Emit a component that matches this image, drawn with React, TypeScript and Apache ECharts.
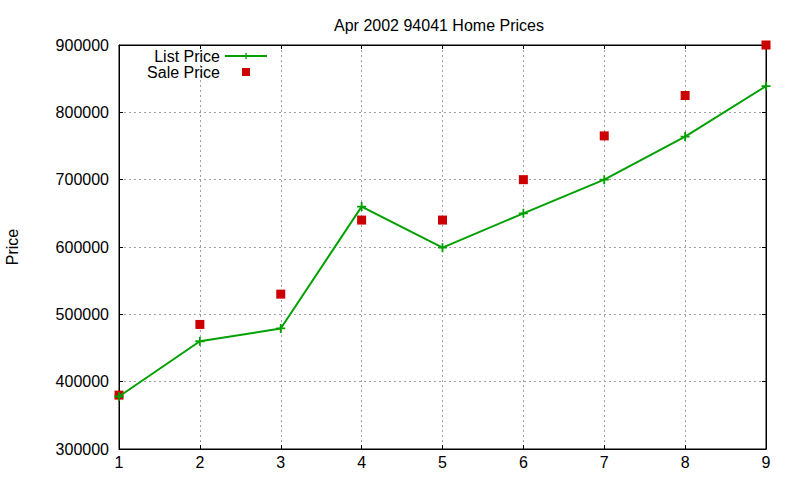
import { useEffect, useRef } from "react"
import * as echarts from "echarts"

const months = [1, 2, 3, 4, 5, 6, 7, 8, 9]
const listPrice = [378000, 460000, 479000, 660000, 599000, 650000, 700000, 764000, 839000]
const salePrice = [380000, 485000, 530000, 640000, 640000, 700000, 765000, 825000, 900000]

const GREEN = "#00a000"
const RED = "#cc0000"
const FONT = "'Liberation Sans', Arial, sans-serif"
const PLUS = "path://M-0.2,-1H0.2V-0.2H1V0.2H0.2V1H-0.2V0.2H-1V-0.2H-0.2Z"
// square in the middle of a 42x8 legend slot (the bare moves keep the box wide)
const LEGEND_SQUARE = "path://M0,0M42,8M17,0H25V8H17Z"

export default function App() {
    const chartRef = useRef<HTMLDivElement>(null)

    useEffect(() => {
        if (!chartRef.current) return
        const chart = echarts.init(chartRef.current, null, { renderer: "svg" })

        const grid = { color: "#a0a0a0", type: [2, 3] as number[], width: 1 }
        const tickStyle = { color: "#000", width: 1 }

        chart.setOption({
            animation: false,
            backgroundColor: "#fff",
            textStyle: { fontFamily: FONT },
            title: {
                text: "Apr 2002 94041 Home Prices",
                left: 434,
                textAlign: "center",
                top: 12,
                textStyle: { fontSize: 16, fontWeight: "normal", color: "#000", fontFamily: FONT },
            },
            legend: {
                orient: "vertical",
                right: 532,
                top: 48,
                padding: 0,
                align: "right",
                itemWidth: 42,
                itemHeight: 8,
                itemGap: 0,
                textStyle: { fontSize: 16, color: "#000", fontFamily: FONT },
                data: ["List Price", { name: "Sale Price", icon: LEGEND_SQUARE }],
            },
            grid: {
                left: 119,
                right: 34,
                top: 45,
                bottom: 31,
                show: true,
                borderColor: "#000",
                borderWidth: 1,
                outerBoundsMode: "none",
            },
            xAxis: [
                {
                    type: "value",
                    min: 1,
                    max: 9,
                    interval: 1,
                    axisLine: { lineStyle: { color: "#000", width: 1 } },
                    axisTick: { inside: true, length: 4, lineStyle: tickStyle },
                    axisLabel: { fontSize: 16, color: "#000", margin: 5, fontFamily: FONT },
                    splitLine: { show: true, lineStyle: grid },
                },
                {
                    type: "value",
                    position: "top",
                    min: 1,
                    max: 9,
                    interval: 1,
                    axisLine: { lineStyle: { color: "#000", width: 1 } },
                    axisTick: { inside: true, length: 4, lineStyle: tickStyle },
                    axisLabel: { show: false },
                    splitLine: { show: false },
                },
            ],
            yAxis: [
                {
                    type: "value",
                    min: 300000,
                    max: 900000,
                    interval: 100000,
                    name: "Price",
                    nameLocation: "middle",
                    nameRotate: 90,
                    nameGap: 99,
                    nameTextStyle: { fontSize: 16, color: "#000", fontFamily: FONT },
                    axisLine: { show: true, lineStyle: { color: "#000", width: 1 } },
                    axisTick: { show: true, inside: true, length: 4, lineStyle: tickStyle },
                    axisLabel: {
                        fontSize: 16,
                        color: "#000",
                        margin: 10,
                        fontFamily: FONT,
                        formatter: (v: number) => String(v),
                    },
                    splitLine: { show: true, lineStyle: grid },
                },
                {
                    type: "value",
                    position: "right",
                    min: 300000,
                    max: 900000,
                    interval: 100000,
                    axisLine: { show: true, lineStyle: { color: "#000", width: 1 } },
                    axisTick: { show: true, inside: true, length: 4, lineStyle: tickStyle },
                    axisLabel: { show: false },
                    splitLine: { show: false },
                },
            ],
            series: [
                {
                    name: "List Price",
                    type: "line",
                    data: months.map((m, i) => [m, listPrice[i]]),
                    symbol: PLUS,
                    symbolSize: 9,
                    showAllSymbol: true,
                    color: GREEN,
                    itemStyle: { color: GREEN },
                    lineStyle: { color: GREEN, width: 2 },
                    z: 3,
                },
                {
                    name: "Sale Price",
                    type: "scatter",
                    data: months.map((m, i) => [m, salePrice[i]]),
                    symbol: "rect",
                    symbolSize: 9,
                    color: RED,
                    itemStyle: { color: RED, opacity: 1 },
                    z: 2,
                },
            ],
        })

        return () => {
            chart.dispose()
        }
    }, [])

    return (
        <div
            ref={chartRef}
            style={{ position: "fixed", left: 0, top: 0, width: 800, height: 480, background: "#fff" }}
        />
    )
}
